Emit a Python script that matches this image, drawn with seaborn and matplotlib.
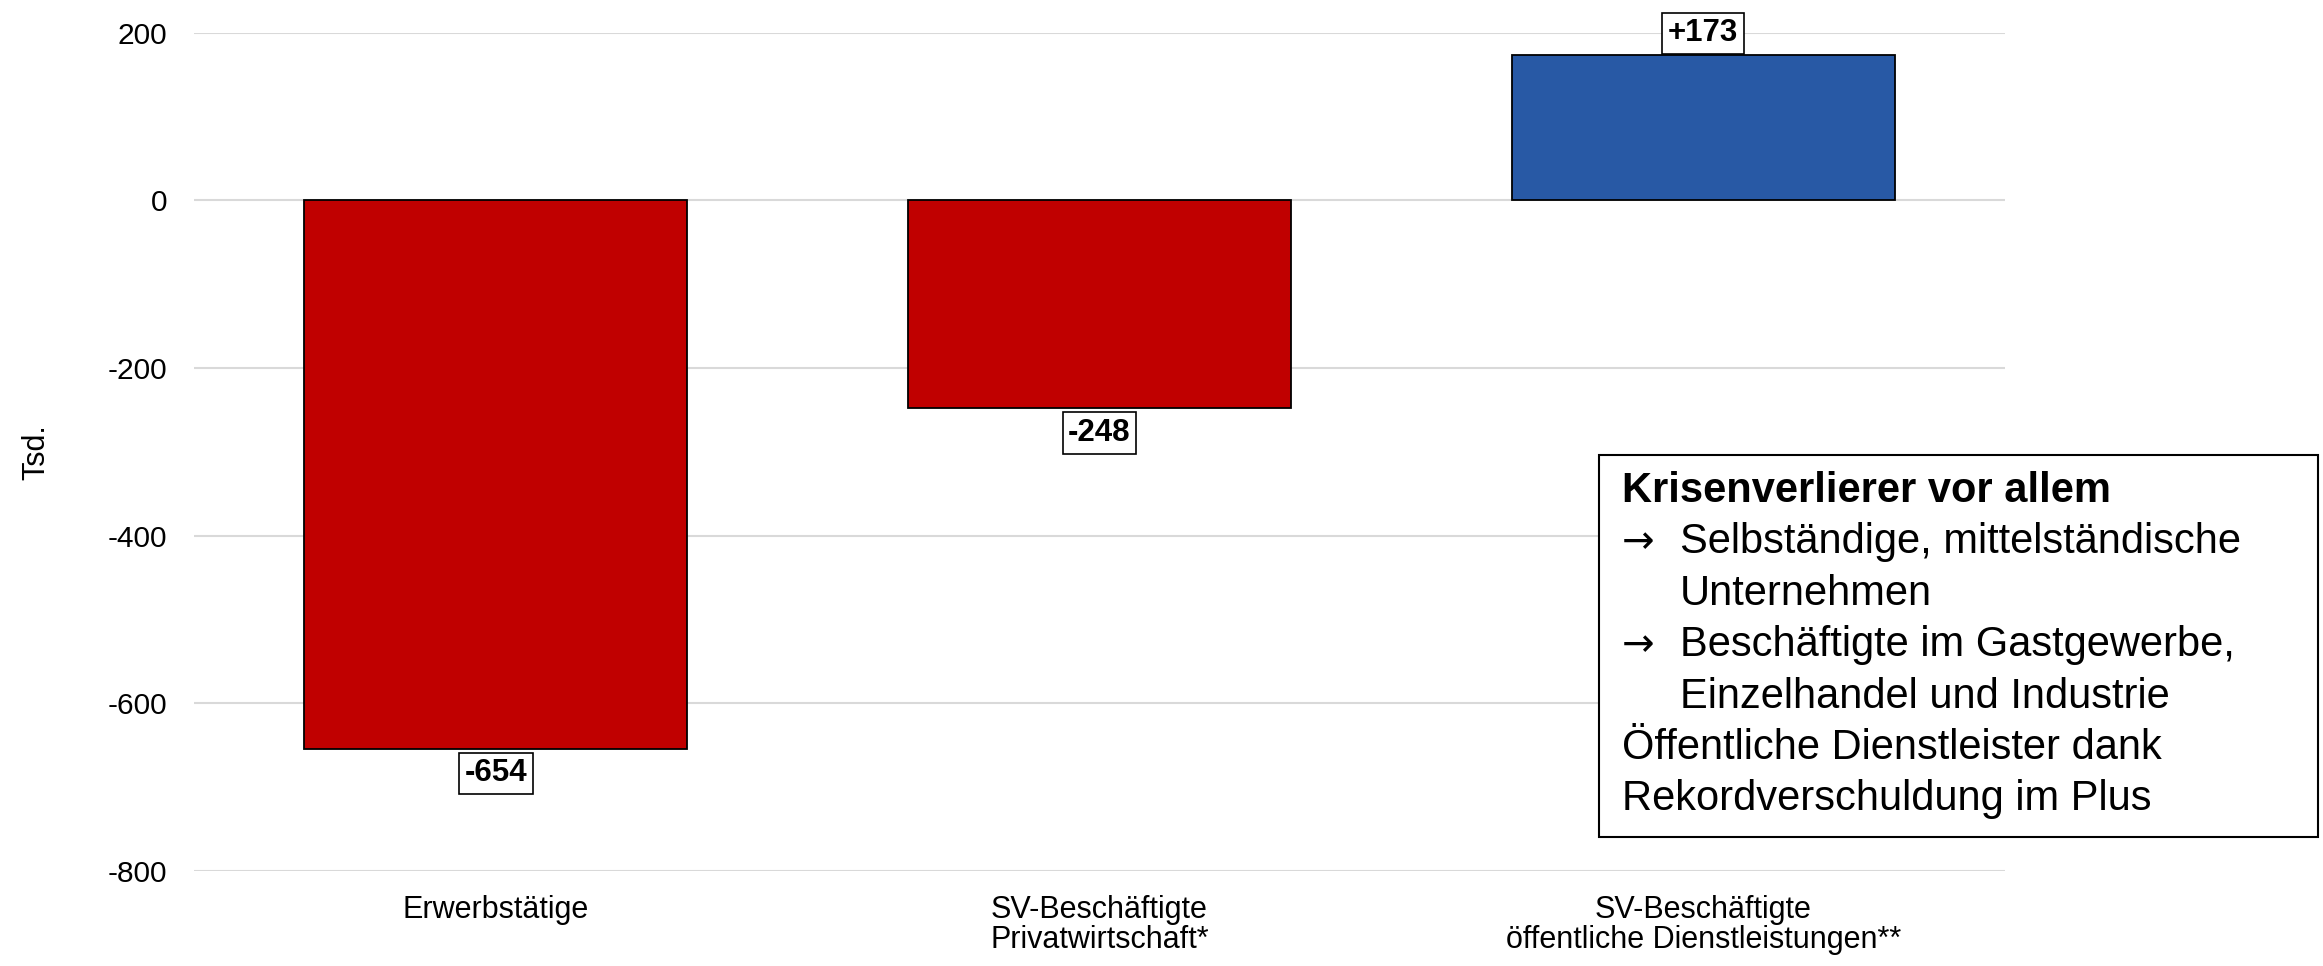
import matplotlib
matplotlib.use("Agg")
import matplotlib.pyplot as plt
import seaborn as sns
import pandas as pd
from matplotlib.patches import Rectangle

# ---- data ----
categories = ["Erwerbstätige",
              "SV-Beschäftigte\nPrivatwirtschaft*",
              "SV-Beschäftigte\nöffentliche Dienstleistungen**"]
values = [-654, -248, 173]
value_labels = ["-654", "-248", "+173"]
bar_colors = ["#C00000", "#C00000", "#2859A5"]
y_ticks = [-800, -600, -400, -200, 0, 200]
y_label = "Tsd."

box_title = "Krisenverlierer vor allem"
box_lines = [  # (arrow?, indent?, text)
    (True, True, "Selbständige, mittelständische"),
    (False, True, "Unternehmen"),
    (True, True, "Beschäftigte im Gastgewerbe,"),
    (False, True, "Einzelhandel und Industrie"),
    (False, False, "Öffentliche Dienstleister dank"),
    (False, False, "Rekordverschuldung im Plus"),
]

# ---- style ----
sns.set_theme(style="white")
plt.rcParams["font.family"] = ["Liberation Sans", "DejaVu Sans"]
plt.rcParams["axes.unicode_minus"] = False
for k in ["text.color", "axes.labelcolor", "xtick.color", "ytick.color"]:
    plt.rcParams[k] = "black"

W, H = 2323, 966
fig = plt.figure(figsize=(W / 100, H / 100), dpi=100)
ax = fig.add_axes([194 / W, 1 - 871 / H, (2005 - 194) / W, (871 - 32.7) / H])

df = pd.DataFrame({"cat": categories, "val": values})
sns.barplot(data=df, x="cat", y="val", hue="cat", palette=bar_colors,
            saturation=1, width=0.634, edgecolor="black", linewidth=1.3,
            legend=False, ax=ax, zorder=3)

ax.set_xlim(-0.5, 2.5)
ax.set_ylim(-800, 200)
ax.set_yticks(y_ticks)
ax.set_yticklabels([str(t) for t in y_ticks])
ax.grid(axis="y", color="#D9D9D9", linewidth=1.5, zorder=0)
ax.grid(axis="x", visible=False)
ax.set_axisbelow(True)
for s in ax.spines.values():
    s.set_visible(False)
ax.tick_params(axis="both", length=0)
ax.tick_params(axis="y", labelsize=21.5, pad=19)
ax.tick_params(axis="x", labelsize=22, pad=17)
for lab in ax.get_xticklabels():
    lab.set_linespacing(1.03)
ax.set_xlabel("")
ax.set_ylabel(y_label, fontsize=22)
ax.yaxis.set_label_coords(-0.079, 0.5)

# value labels
for i, (v, txt) in enumerate(zip(values, value_labels)):
    off = 5 if v > 0 else -7
    ax.annotate(txt, xy=(i, v), xytext=(0, off), textcoords="offset points",
                ha="center", va="bottom" if v > 0 else "top",
                fontsize=22.5, fontweight="bold", zorder=5,
                bbox=dict(boxstyle="square,pad=0.18", facecolor="white",
                          edgecolor="black", linewidth=1.2))

# annotation box
fig.add_artist(Rectangle((1599 / W, 1 - 837 / H), (2318 - 1599) / W, (837 - 455) / H,
                         transform=fig.transFigure, facecolor="white",
                         edgecolor="black", linewidth=1.5, zorder=10))
x0, x1 = 1622 / W, 1680 / W
base = 502
step = 51.4
fs = 30
fig.text(x0, 1 - base / H, box_title, fontsize=fs, fontweight="bold",
         va="baseline", ha="left", zorder=11)
for k, (arrow, indent, text) in enumerate(box_lines, start=1):
    yy = 1 - (base + k * step) / H
    if arrow:
        fig.text(x0, yy, "→", fontsize=fs - 2, va="baseline", ha="left",
                 family=["DejaVu Sans"], zorder=11)
    fig.text(x1 if indent else x0, yy, text, fontsize=fs,
             va="baseline", ha="left", zorder=11)

fig.savefig("out.png", dpi=100)
